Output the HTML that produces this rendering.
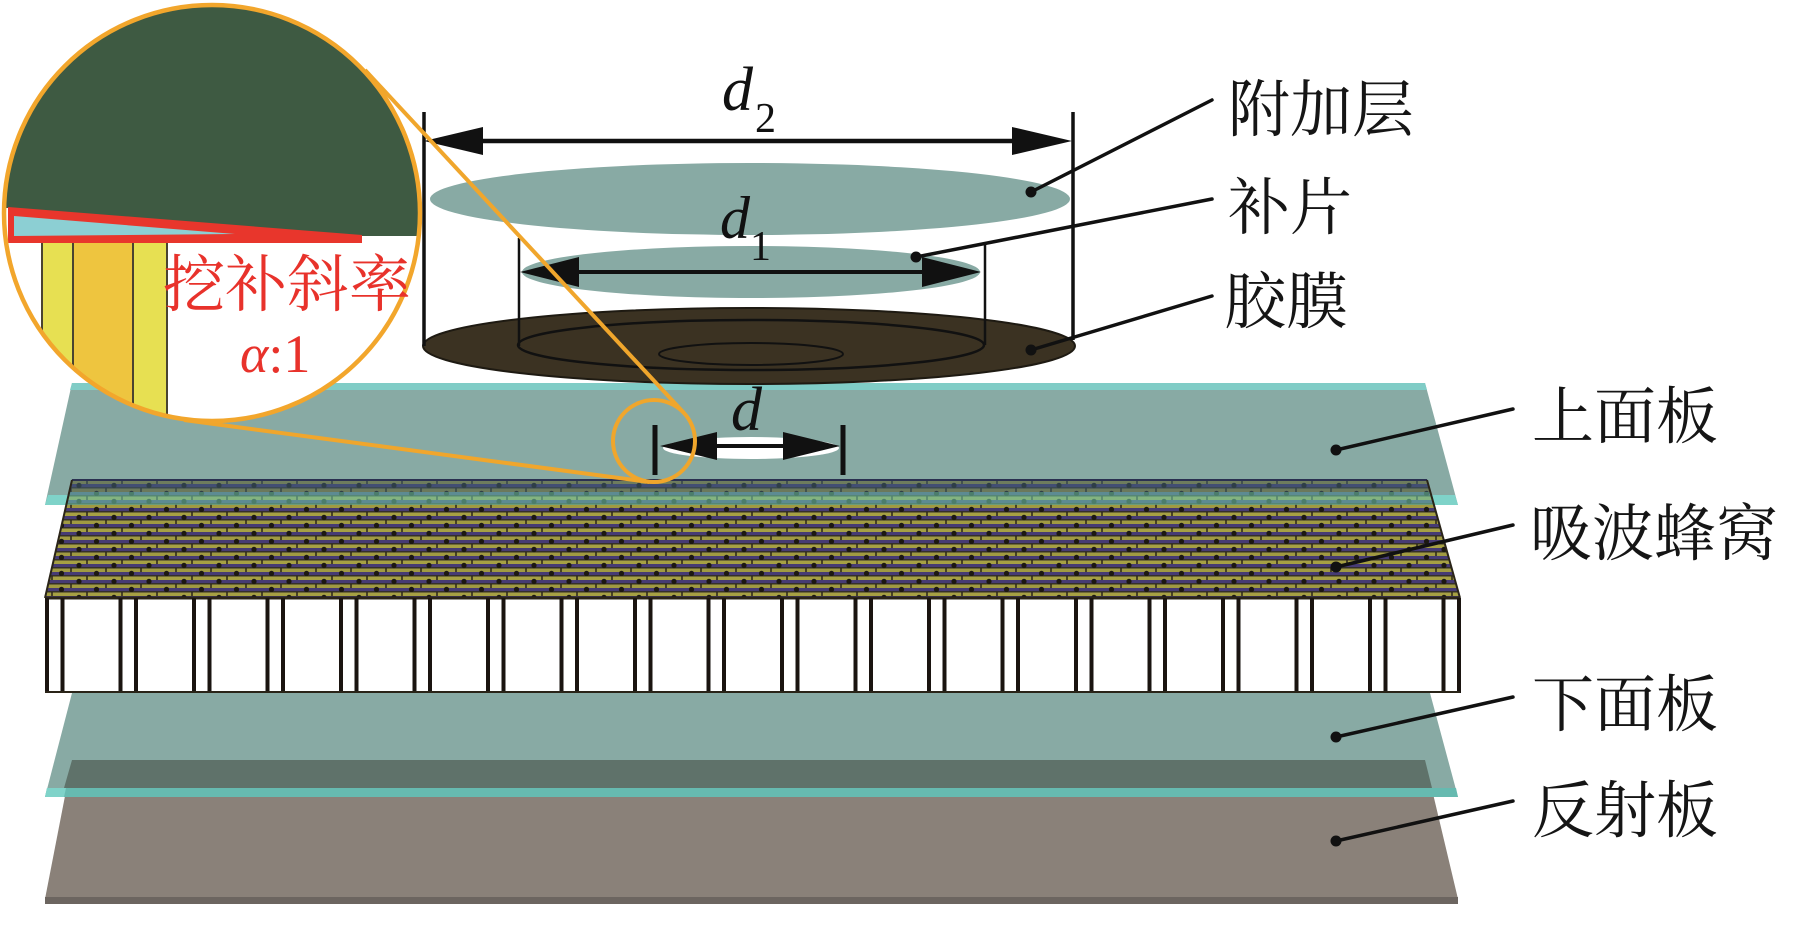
<!DOCTYPE html>
<html><head><meta charset="utf-8">
<style>
html,body{margin:0;padding:0;background:#fff;}
svg{display:block;}
</style></head>
<body>
<svg width="1819" height="941" viewBox="0 0 1819 941" xmlns="http://www.w3.org/2000/svg">
<defs>
<pattern id="hc" x="0" y="480" width="35" height="16" patternUnits="userSpaceOnUse">
  <rect width="35" height="16" fill="#35302a"/>
  <rect x="0" y="0.5" width="35" height="3.5" fill="#a6a044"/>
  <rect x="0" y="4" width="35" height="3" fill="#463b74"/>
  <rect x="0" y="8.5" width="35" height="3.5" fill="#a09a42"/>
  <rect x="0" y="12" width="35" height="3" fill="#463b74"/>
  <ellipse cx="9" cy="5.5" rx="2.6" ry="2.8" fill="#1c1812"/>
  <ellipse cx="26.5" cy="13.5" rx="2.6" ry="2.8" fill="#1c1812"/>
  <line x1="17" y1="0" x2="17" y2="4" stroke="#2a2418" stroke-width="1.5"/>
  <line x1="1" y1="8" x2="1" y2="12" stroke="#2a2418" stroke-width="1.5"/>
</pattern>
<clipPath id="mag"><circle cx="212" cy="213" r="208"/></clipPath>
</defs>

<rect width="1819" height="941" fill="#fff"/>

<!-- Reflector -->
<polygon points="72,760 1425,760 1458,899 45,899" fill="#8a8179"/>
<polygon points="45,897 1458,897 1458,904 45,904" fill="#6c6560"/>
<!-- Bottom panel -->
<polygon points="72,693 1430,693 1458,797 45,797" fill="#88aaa4"/>
<polygon points="72,760 1425,760 1432,788 64,788" fill="#5f726a"/>
<polygon points="47,788 1456,788 1458,797 45,797" fill="#66bab0"/>
<polygon points="47,788 66,788 64,797 45,797" fill="#7fd3c9"/>

<!-- Top panel -->
<polygon points="72,383 1425,383 1458,505 45,505" fill="#88aaa4"/>
<polygon points="72,383 1425,383 1427,390 70,390" fill="#80ccc6"/>
<polygon points="48,495 1455,495 1458,505 45,505" fill="#7fd3c9"/>

<!-- Honeycomb top surface -->
<polygon points="72,480 1427,480 1460,598 45,598" fill="url(#hc)"/>
<polygon points="72,480 1427,480 1430,492 69,492" fill="#3f5f72" opacity="0.55"/>
<polygon points="69,492 1430,492 1434,505 65,505" fill="#6cc2a8" opacity="0.6"/>
<line x1="72" y1="480" x2="1427" y2="480" stroke="#2a3050" stroke-width="2"/>
<line x1="72" y1="480" x2="45" y2="598" stroke="#2a2418" stroke-width="2"/>
<line x1="1427" y1="480" x2="1460" y2="598" stroke="#2a2418" stroke-width="2"/>
<line x1="45" y1="598" x2="1460" y2="598" stroke="#2a2418" stroke-width="3"/>

<!-- Honeycomb walls -->
<g stroke="#1a1410" stroke-width="4">
  <line x1="47" y1="598" x2="47" y2="693"/><line x1="62.5" y1="598" x2="62.5" y2="693"/>
  <line x1="120.5" y1="598" x2="120.5" y2="693"/><line x1="136" y1="598" x2="136" y2="693"/>
  <line x1="194" y1="598" x2="194" y2="693"/><line x1="209.5" y1="598" x2="209.5" y2="693"/>
  <line x1="267.5" y1="598" x2="267.5" y2="693"/><line x1="283" y1="598" x2="283" y2="693"/>
  <line x1="341" y1="598" x2="341" y2="693"/><line x1="356.5" y1="598" x2="356.5" y2="693"/>
  <line x1="414.5" y1="598" x2="414.5" y2="693"/><line x1="430" y1="598" x2="430" y2="693"/>
  <line x1="488" y1="598" x2="488" y2="693"/><line x1="503.5" y1="598" x2="503.5" y2="693"/>
  <line x1="561.5" y1="598" x2="561.5" y2="693"/><line x1="577" y1="598" x2="577" y2="693"/>
  <line x1="635" y1="598" x2="635" y2="693"/><line x1="650.5" y1="598" x2="650.5" y2="693"/>
  <line x1="708.5" y1="598" x2="708.5" y2="693"/><line x1="724" y1="598" x2="724" y2="693"/>
  <line x1="782" y1="598" x2="782" y2="693"/><line x1="797.5" y1="598" x2="797.5" y2="693"/>
  <line x1="855.5" y1="598" x2="855.5" y2="693"/><line x1="871" y1="598" x2="871" y2="693"/>
  <line x1="929" y1="598" x2="929" y2="693"/><line x1="944.5" y1="598" x2="944.5" y2="693"/>
  <line x1="1002.5" y1="598" x2="1002.5" y2="693"/><line x1="1018" y1="598" x2="1018" y2="693"/>
  <line x1="1076" y1="598" x2="1076" y2="693"/><line x1="1091.5" y1="598" x2="1091.5" y2="693"/>
  <line x1="1149.5" y1="598" x2="1149.5" y2="693"/><line x1="1165" y1="598" x2="1165" y2="693"/>
  <line x1="1223" y1="598" x2="1223" y2="693"/><line x1="1238.5" y1="598" x2="1238.5" y2="693"/>
  <line x1="1296.5" y1="598" x2="1296.5" y2="693"/><line x1="1312" y1="598" x2="1312" y2="693"/>
  <line x1="1370" y1="598" x2="1370" y2="693"/><line x1="1385.5" y1="598" x2="1385.5" y2="693"/>
  <line x1="1443.5" y1="598" x2="1443.5" y2="693"/><line x1="1459" y1="598" x2="1459" y2="693"/>
</g>
<line x1="45" y1="692" x2="1460" y2="692" stroke="#2a2418" stroke-width="2"/>

<!-- Ellipses -->
<ellipse cx="750" cy="199" rx="320" ry="36" fill="#88aaa4"/>
<ellipse cx="751" cy="272" rx="229" ry="26" fill="#88aaa4"/>
<ellipse cx="749" cy="346" rx="326" ry="38" fill="#3b3222" stroke="#1e1a12" stroke-width="2"/>
<ellipse cx="751" cy="345" rx="233" ry="25" fill="none" stroke="#111" stroke-width="2.5"/>
<ellipse cx="751" cy="354" rx="92" ry="11" fill="none" stroke="#111" stroke-width="2"/>

<!-- Cylinder lines -->
<g stroke="#111">
  <line x1="424" y1="112" x2="424" y2="346" stroke-width="3.5"/>
  <line x1="1073" y1="112" x2="1073" y2="340" stroke-width="3.5"/>
  <line x1="519" y1="238" x2="519" y2="346" stroke-width="2.5"/>
  <line x1="985" y1="242" x2="985" y2="345" stroke-width="2.5"/>
</g>

<!-- d2 arrow -->
<line x1="480" y1="141" x2="1015" y2="141" stroke="#111" stroke-width="4.5"/>
<polygon points="424,141 483,127 483,155" fill="#111"/>
<polygon points="1072,141 1012,127 1012,155" fill="#111"/>
<!-- d1 arrow -->
<line x1="575" y1="272" x2="925" y2="272" stroke="#111" stroke-width="4"/>
<polygon points="520,272 579,257 579,287" fill="#111"/>
<polygon points="981,272 922,257 922,287" fill="#111"/>
<!-- d arrow -->
<ellipse cx="751" cy="448" rx="88" ry="11" fill="#fff"/>
<line x1="714" y1="446" x2="786" y2="446" stroke="#111" stroke-width="4"/>
<polygon points="660,446 717,432 717,460" fill="#111"/>
<polygon points="840,446 783,432 783,460" fill="#111"/>
<line x1="655" y1="425" x2="655" y2="475" stroke="#111" stroke-width="5"/>
<line x1="843" y1="425" x2="843" y2="475" stroke="#111" stroke-width="5"/>

<!-- Labels d -->
<g font-family="'Liberation Serif', serif" fill="#111">
  <text x="722" y="110" font-size="62" font-style="italic">d</text>
  <text x="755" y="132" font-size="42">2</text>
  <text x="720" y="238" font-size="60" font-style="italic">d</text>
  <text x="750" y="260" font-size="42">1</text>
  <text x="731" y="430" font-size="62" font-style="italic">d</text>
</g>

<!-- Tangent lines -->
<g stroke="#f0a62c" stroke-width="4" fill="none">
  <line x1="365" y1="70" x2="684" y2="413"/>
  <line x1="184" y1="420" x2="649" y2="482"/>
  <circle cx="654" cy="441" r="41"/>
</g>

<!-- Magnifier -->
<circle cx="212" cy="213" r="208" fill="#fff"/>
<g clip-path="url(#mag)">
  <polygon points="0,0 430,0 430,236 362,236 8,208 0,208" fill="#3e5a42"/>
  <polygon points="8,207 362,235 362,243 8,243" fill="#e8362c"/>
  <polygon points="14,216 235,234 14,236" fill="#8ccfd3"/>
  <rect x="42" y="243" width="31" height="200" fill="#e7e052"/>
  <rect x="73" y="243" width="60" height="200" fill="#eec53f"/>
  <rect x="133" y="243" width="34" height="200" fill="#e7e052"/>
  <g stroke="#4a4430" stroke-width="2">
    <line x1="42" y1="243" x2="42" y2="440"/>
    <line x1="73" y1="243" x2="73" y2="440"/>
    <line x1="133" y1="243" x2="133" y2="440"/>
    <line x1="167" y1="243" x2="167" y2="440"/>
  </g>
</g>
<circle cx="212" cy="213" r="208" fill="none" stroke="#f2a62c" stroke-width="4.5"/>
<text x="163" y="306" font-size="62" fill="#e8322b" font-family="'Liberation Serif','Noto Serif CJK SC',serif">挖补斜率</text>
<text x="240" y="372" font-size="54" fill="#e8322b" font-family="'Liberation Serif',serif"><tspan font-style="italic">α</tspan>:1</text>

<!-- Leaders -->
<g stroke="#111" stroke-width="3.5" stroke-linecap="round">
  <line x1="1031" y1="192" x2="1212" y2="100"/>
  <line x1="916" y1="257" x2="1212" y2="199"/>
  <line x1="1031" y1="350" x2="1212" y2="296"/>
  <line x1="1336" y1="450" x2="1513" y2="409"/>
  <line x1="1336" y1="567" x2="1513" y2="525"/>
  <line x1="1336" y1="737" x2="1513" y2="697"/>
  <line x1="1336" y1="841" x2="1513" y2="801"/>
</g>
<g fill="#111">
  <circle cx="1031" cy="192" r="5.5"/>
  <circle cx="916" cy="257" r="5.5"/>
  <circle cx="1031" cy="350" r="5.5"/>
  <circle cx="1336" cy="450" r="5.5"/>
  <circle cx="1336" cy="567" r="5.5"/>
  <circle cx="1336" cy="737" r="5.5"/>
  <circle cx="1336" cy="841" r="5.5"/>
</g>

<!-- Text labels -->
<g font-family="'Liberation Serif','Noto Serif CJK SC',serif" font-size="62" fill="#151515">
  <text x="1228" y="131">附加层</text>
  <text x="1228" y="229">补片</text>
  <text x="1224" y="323">胶膜</text>
  <text x="1532" y="438">上面板</text>
  <text x="1530" y="555">吸波蜂窝</text>
  <text x="1532" y="726">下面板</text>
  <text x="1532" y="832">反射板</text>
</g>
</svg>
</body></html>
